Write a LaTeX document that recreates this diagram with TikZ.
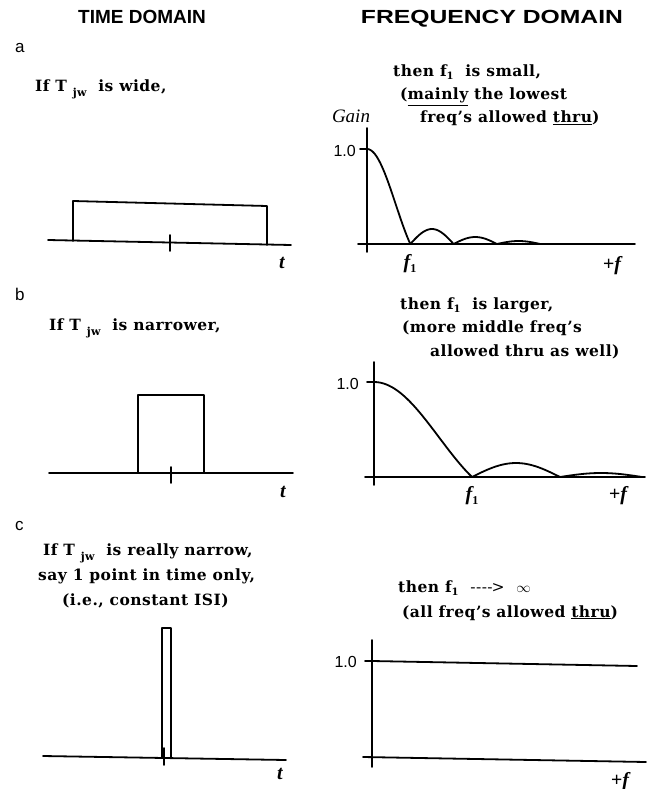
\documentclass[tikz,border=0pt]{standalone}
\usepackage{fontspec}
\setmainfont{DejaVu Serif}
\newfontfamily\txtfont{DejaVu Serif}[LetterSpace=3]
\newfontfamily\sansf{Liberation Sans}
\newfontfamily\labfont{Liberation Serif}
\newcommand\subjw[1]{\raisebox{-5pt}{\fontsize{11}{11}\selectfont #1}}
\newcommand\subone{\raisebox{-3pt}{\fontsize{10}{10}\selectfont 1}}
\newcommand\subonel{\raisebox{-4pt}{\fontsize{12}{12}\selectfont\upshape 1}}
\tikzset{
  ln/.style={line width=1.8pt, line join=round, line cap=round},
  ttl/.style={font=\sansf\bfseries\fontsize{19}{20}\selectfont, anchor=base, inner sep=0},
  panl/.style={font=\sansf\fontsize{17}{18}\selectfont, anchor=base west, inner sep=0},
  txt/.style={font=\txtfont\bfseries\fontsize{15.5}{16}\selectfont, anchor=base west, inner sep=0},
  axl/.style={font=\labfont\bfseries\itshape\fontsize{20}{20}\selectfont, anchor=base, inner sep=0},
  one/.style={font=\sansf\fontsize{16}{16}\selectfont, anchor=base east, inner sep=0},
}
\begin{document}
\begin{tikzpicture}[x=1pt,y=-1pt]
\fill[white] (0,0) rectangle (646,789);
\useasboundingbox (0,0) rectangle (646,789);
% titles
\node[ttl] (t1) at (142,24) {\scalebox{1.0}[1]{TIME DOMAIN}};
\node[ttl] (t2) at (492,24) {\scalebox{1.3}[1]{FREQUENCY DOMAIN}};
% panel a
\node[panl] (pa) at (15,53) {a};
\node[txt] (a1) at (35,92) {If T \subjw{jw}\ \ is wide,};
\node[txt] (a2) at (393,77) {then f\subone\ \ is small,};
\node[txt] (a3) at (400,100) {(\underline{mainly} the lowest};
\node[txt] (a4) at (420,123) {freq’s allowed \underline{thru})};
\node[font=\labfont\itshape\fontsize{19}{19}\selectfont, anchor=base, inner sep=0] (gain) at (351,123) {Gain};
\draw[ln] (48,240) -- (291,245);
\draw[ln] (73,241) -- (73,201) -- (267,206) -- (267,245);
\draw[ln] (170,235) -- (170,251);
\node[axl] (ta) at (282,268) {t};
\draw[ln] (367,128) -- (367,252);
\draw[ln] (358,244) -- (635,244);
\draw[ln] (360,149) -- (367,149);
\node[one] (oa) at (356,156) {1.0};
\draw[ln] plot[domain=0.001:1, samples=40] ({367+43.3*\x},{244-95*sin(180*\x)/(pi*\x)});
\draw[ln] plot[domain=1:2, samples=25] ({367+43.3*\x},{244-15*abs(sin(180*\x))});
\draw[ln] plot[domain=2:3, samples=25] ({367+43.3*\x},{244-7*abs(sin(180*\x))});
\draw[ln] plot[domain=3:4, samples=25] ({367+43.3*\x},{244-3*abs(sin(180*\x))});
\node[axl] (fa) at (410,268) {f\subonel};
\node[axl] (pfa) at (612,270) {+f};
% panel b
\node[panl] (pb) at (15,300) {b};
\node[txt] (b1) at (49,330) {If T \subjw{jw}\ \ is narrower,};
\node[txt] (b2) at (400,309) {then f\subone\ \ is larger,};
\node[txt] (b3) at (402,332) {(more middle freq’s};
\node[txt] (b4) at (430,356) {allowed thru as well)};
\draw[ln] (49,473) -- (293,473);
\draw[ln] (138,473) -- (138,395) -- (204,395) -- (204,473);
\draw[ln] (171,467) -- (171,483);
\node[axl] (tb) at (283,497) {t};
\draw[ln] (374,362) -- (374,485);
\draw[ln] (365,477) -- (645,477);
\draw[ln] (367,382) -- (374,382);
\node[one] (ob) at (359,389) {1.0};
\draw[ln] plot[domain=0.001:1, samples=40] ({374+98*\x},{477-95*sin(180*\x)/(pi*\x)});
\draw[ln] plot[domain=0:1, samples=30] ({472+88*\x},{477-14*sin(180*\x)});
\draw[ln] plot[domain=0:1, samples=30] ({560+82*\x},{477-4*sin(180*\x)});
\node[axl] (fb) at (472,500) {f\subonel};
\node[axl] (pfb) at (618,500) {+f};
% panel c
\node[panl] (pc) at (15,530) {c};
\node[txt] (c1) at (43,555) {If T \subjw{jw}\ \ is really narrow,};
\node[txt] (c2) at (38,580) {say 1 point in time only,};
\node[txt] (c3) at (62,605) {(i.e., constant ISI)};
\node[txt] (c4) at (398,592) {then f\subone\ \ {\mdseries ----\kern-1pt>}\ \ $\infty$};
\node[txt] (c5) at (402,617) {(all freq’s allowed \underline{thru})};
\draw[ln] (43,756) -- (286,760);
\draw[ln] (162,757) -- (162,628) -- (171,628) -- (171,757);
\draw[ln] (164,748) -- (164,765);
\node[axl] (tc) at (280,779) {t};
\draw[ln] (372,640) -- (372,767);
\draw[ln] (365,661) -- (372,661);
\node[one] (oc) at (357,667) {1.0};
\draw[ln] (372,661) -- (637,666);
\draw[ln] (363,757) -- (646,762);
\node[axl] (pfc) at (620,786) {+f};
\end{tikzpicture}
\end{document}
